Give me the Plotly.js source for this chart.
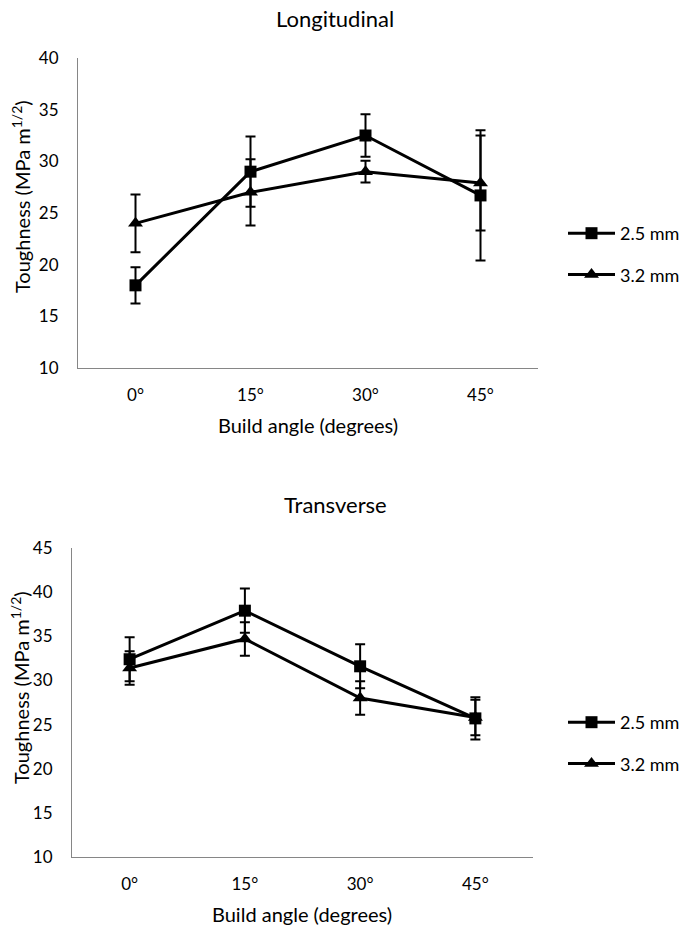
<!DOCTYPE html>
<html>
<head>
<meta charset="utf-8">
<script src="https://cdn.plot.ly/plotly-3.0.1.min.js"></script>
<style>html,body{margin:0;padding:0;background:#fff;}#chart{width:685px;height:930px;}</style>
</head>
<body>
<div id="chart"></div>
<script>
// ---- data ----
const angles = ["0°", "15°", "30°", "45°"];
const seriesNames = ["2.5 mm", "3.2 mm"];

const longit_25 = [18.0, 29.0, 32.5, 26.7];
const longit_25_err = [1.75, 3.4, 2.05, 6.3];
const longit_32 = [24.0, 27.0, 29.0, 27.9];
const longit_32_err = [2.8, 3.2, 1.05, 4.6];

const trans_25 = [32.4, 37.9, 31.6, 25.7];
const trans_25_err = [2.5, 2.5, 2.5, 2.4];
const trans_32 = [31.4, 34.7, 28.0, 25.8];
const trans_32_err = [1.9, 1.9, 1.9, 2.0];

const longitTicks = [10, 15, 20, 25, 30, 35, 40];
const transTicks = [10, 15, 20, 25, 30, 35, 40, 45];

// ---- helpers ----
const W = 685, H = 930;
const px = x => x / W;
const py = y => 1 - y / H;
const FONT = "Lato, 'Open Sans', sans-serif";

function trace(x, y, err, name, symbol, xa, ya, legend) {
  return {
    type: "scatter", mode: "lines+markers",
    x: x, y: y, name: name,
    xaxis: xa, yaxis: ya, legend: legend,
    legendgroup: legend + name,
    line: {color: "#000", width: 3},
    marker: {symbol: symbol, color: "#000", size: symbol === "square" ? 12 : 13},
    error_y: {type: "data", array: err, visible: true, color: "#000", thickness: 2, width: 5}
  };
}

const data = [
  trace(angles, longit_25, longit_25_err, seriesNames[0], "square", "x", "y", "legend"),
  trace(angles, longit_32, longit_32_err, seriesNames[1], "triangle-up", "x", "y", "legend"),
  trace(angles, trans_25, trans_25_err, seriesNames[0], "square", "x2", "y2", "legend2"),
  trace(angles, trans_32, trans_32_err, seriesNames[1], "triangle-up", "x2", "y2", "legend2")
];

const axisLine = {showline: true, linecolor: "#868686", linewidth: 1, showgrid: false, zeroline: false, ticks: ""};
const tickFont = {family: FONT, size: 17, color: "#000"};

const legendCommon = {
  font: {family: FONT, size: 18, color: "#000"},
  bgcolor: "rgba(0,0,0,0)", borderwidth: 0,
  traceorder: "grouped", tracegroupgap: 15,
  xanchor: "left", yanchor: "top", itemwidth: 47
};

const layout = {
  width: W, height: H,
  margin: {l: 0, r: 0, t: 0, b: 0},
  paper_bgcolor: "#fff", plot_bgcolor: "#fff",
  font: {family: FONT, size: 17, color: "#000"},
  showlegend: true,
  xaxis: Object.assign({}, axisLine, {
    domain: [px(78), px(538)], anchor: "y", type: "category", range: [-0.5, 3.5],
    tickfont: tickFont, ticklabelstandoff: 12
  }),
  yaxis: Object.assign({}, axisLine, {
    domain: [py(368), py(58)], anchor: "x", range: [10, 40],
    tickvals: longitTicks, ticklabelstandoff: 15, tickfont: tickFont
  }),
  xaxis2: Object.assign({}, axisLine, {
    domain: [px(72), px(533)], anchor: "y2", type: "category", range: [-0.5, 3.5],
    tickfont: tickFont, ticklabelstandoff: 12
  }),
  yaxis2: Object.assign({}, axisLine, {
    domain: [py(857), py(548)], anchor: "x2", range: [10, 45],
    tickvals: transTicks, ticklabelstandoff: 15, tickfont: tickFont
  }),
  legend: Object.assign({}, legendCommon, {x: px(563), y: py(215)}),
  legend2: Object.assign({}, legendCommon, {x: px(563), y: py(704)}),
  annotations: [
    {text: "Longitudinal", xref: "paper", yref: "paper", x: px(335), y: py(18), showarrow: false,
     xanchor: "center", yanchor: "middle", font: {family: FONT, size: 22, color: "#000"}},
    {text: "Transverse", xref: "paper", yref: "paper", x: px(335), y: py(504), showarrow: false,
     xanchor: "center", yanchor: "middle", font: {family: FONT, size: 22, color: "#000"}},
    {text: "Build angle (degrees)", xref: "paper", yref: "paper", x: px(308), y: py(425), showarrow: false,
     xanchor: "center", yanchor: "middle", font: {family: FONT, size: 20, color: "#000"}},
    {text: "Build angle (degrees)", xref: "paper", yref: "paper", x: px(302), y: py(914), showarrow: false,
     xanchor: "center", yanchor: "middle", font: {family: FONT, size: 20, color: "#000"}},
    {text: "Toughness (MPa m<sup>1/2</sup>)", xref: "paper", yref: "paper", x: px(21), y: py(197), showarrow: false,
     textangle: -90, xanchor: "center", yanchor: "middle", font: {family: FONT, size: 20, color: "#000"}},
    {text: "Toughness (MPa m<sup>1/2</sup>)", xref: "paper", yref: "paper", x: px(20), y: py(688), showarrow: false,
     textangle: -90, xanchor: "center", yanchor: "middle", font: {family: FONT, size: 20, color: "#000"}}
  ]
};

Plotly.newPlot("chart", data, layout, {displayModeBar: false, staticPlot: true});
</script>
</body>
</html>
